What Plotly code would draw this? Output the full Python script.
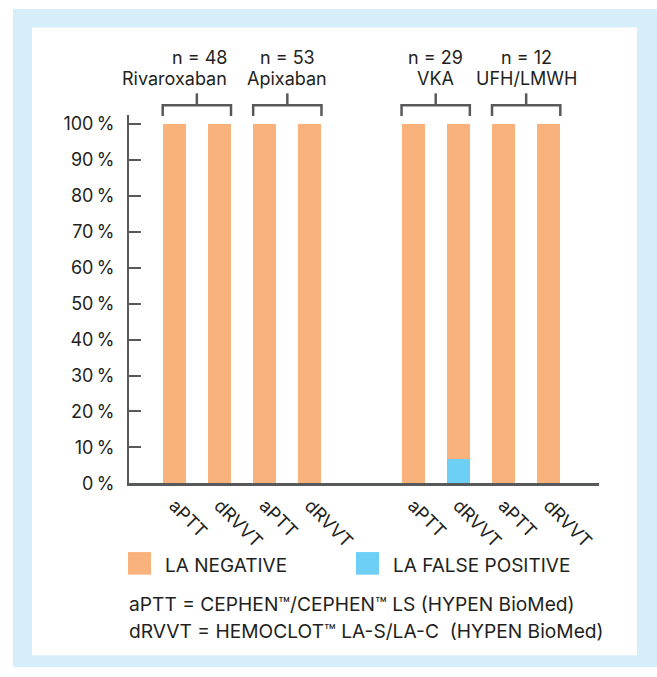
import plotly.graph_objects as go

# ---- data ----
groups = ["Rivaroxaban", "Apixaban", "VKA", "UFH/LMWH"]
group_n = [48, 53, 29, 12]
tests = ["aPTT", "dRVVT"]
bar_labels = ["aPTT", "dRVVT", "aPTT", "dRVVT", "aPTT", "dRVVT", "aPTT", "dRVVT"]
la_false_positive = [0, 0, 0, 0, 0, 6.9, 0, 0]
la_negative = [100, 100, 100, 100, 100, 93.1, 100, 100]
y_ticks = [0, 10, 20, 30, 40, 50, 60, 70, 80, 90, 100]
y_tick_labels = [f"{v}\u2009%" for v in y_ticks]
footnotes = [
    "aPTT = CEPHEN™/CEPHEN™ LS (HYPEN BioMed)",
    "dRVVT = HEMOCLOT™ LA-S/LA-C  (HYPEN BioMed)",
]

# ---- style ----
ORANGE = "#F9B27B"
BLUE = "#6DCFF6"
FRAME = "#D6EEF9"
AXIS = "#58595B"
TEXT = "#231F20"
FONT = "Inter"
W, H = 657, 677

GAP = 1.28
xpos = [i + (GAP if i >= 4 else 0) for i in range(len(bar_labels))]
BW = 0.51

def px_x(p):
    return p / W

def px_y(p):
    return 1 - p / H

fig = go.Figure()
fig.add_trace(go.Bar(x=xpos, y=la_false_positive, name="LA FALSE POSITIVE",
                     marker=dict(color=BLUE, line=dict(width=0)), width=BW,
                     showlegend=False, hoverinfo="skip"))
fig.add_trace(go.Bar(x=xpos, y=la_negative, name="LA NEGATIVE",
                     marker=dict(color=ORANGE, line=dict(width=0)), width=BW,
                     showlegend=False, hoverinfo="skip"))

shapes = [
    dict(type="rect", xref="paper", yref="paper", x0=px_x(13), x1=px_x(657),
         y0=0, y1=px_y(7), fillcolor=FRAME, line=dict(width=0), layer="below"),
    dict(type="rect", xref="paper", yref="paper", x0=px_x(32), x1=px_x(637),
         y0=px_y(665), y1=px_y(26), fillcolor="white", line=dict(width=0), layer="below"),
]
annotations = []

for g, (name, n) in enumerate(zip(groups, group_n)):
    a = xpos[2 * g] - BW / 2
    b = xpos[2 * g + 1] + BW / 2
    mid = (a + b) / 2
    yb, yl, yt = px_y(116), px_y(105), px_y(93)
    shapes.append(dict(type="path", xref="x", yref="paper",
                       path=f"M {a} {yb} L {a} {yl} L {b} {yl} L {b} {yb}",
                       line=dict(color=AXIS, width=2.5)))
    shapes.append(dict(type="line", xref="x", yref="paper", x0=mid, x1=mid,
                       y0=yl, y1=yt, line=dict(color=AXIS, width=2.5)))
    if g == 0:
        ax, anc, sh = b, "right", -2
    else:
        ax, anc, sh = mid, "center", 0
    annotations.append(dict(x=ax, xref="x", y=px_y(57), yref="paper", text=f"n = {n}",
                            showarrow=False, xanchor=anc, yanchor="middle", xshift=sh,
                            font=dict(family=FONT, size=18, color=TEXT)))
    annotations.append(dict(x=ax, xref="x", y=px_y(78), yref="paper", text=name,
                            showarrow=False, xanchor=anc, yanchor="middle", xshift=sh,
                            font=dict(family=FONT, size=18, color=TEXT)))

legend_items = [("LA NEGATIVE", ORANGE, 128), ("LA FALSE POSITIVE", BLUE, 356)]
for label, col, x0 in legend_items:
    shapes.append(dict(type="rect", xref="paper", yref="paper", x0=px_x(x0), x1=px_x(x0 + 23),
                       y0=px_y(583), y1=px_y(560), fillcolor=col, line=dict(width=0)))
    annotations.append(dict(x=px_x(x0 + 35), xref="paper", y=px_y(574), yref="paper",
                            text=label, showarrow=False, xanchor="left", yanchor="middle",
                            font=dict(family=FONT, size=19, color=TEXT)))

for i, t in enumerate(footnotes):
    annotations.append(dict(x=px_x(127), xref="paper", y=px_y(613 + 27 * i), yref="paper",
                            text=t, showarrow=False, xanchor="left", yanchor="middle",
                            font=dict(family=FONT, size=19.2, color=TEXT)))

fig.update_layout(
    width=W, height=H, margin=dict(l=0, r=0, t=0, b=0),
    paper_bgcolor="white", plot_bgcolor="white",
    barmode="stack", showlegend=False,
    shapes=shapes, annotations=annotations,
    font=dict(family=FONT, size=18, color=TEXT),
    xaxis=dict(domain=[px_x(129), px_x(599)], range=[-1.0, 9.39],
               tickmode="array", tickvals=xpos, ticktext=bar_labels, tickangle=45,
               showline=True, linecolor=AXIS, linewidth=2.5, ticks="",
               showgrid=False, zeroline=False, fixedrange=True, ticklabelstandoff=2,
               tickfont=dict(family=FONT, size=18, color=TEXT)),
    yaxis=dict(domain=[px_y(490), px_y(115)], range=[0, 102.5],
               tickmode="array", tickvals=y_ticks, ticktext=y_tick_labels,
               ticks="inside", ticklen=12, tickwidth=2, tickcolor=AXIS,
               showline=True, linecolor=AXIS, linewidth=2,
               showgrid=False, zeroline=False, fixedrange=True, ticklabelstandoff=9,
               tickfont=dict(family=FONT, size=18, color=TEXT)),
)

fig.write_html("out.html")
